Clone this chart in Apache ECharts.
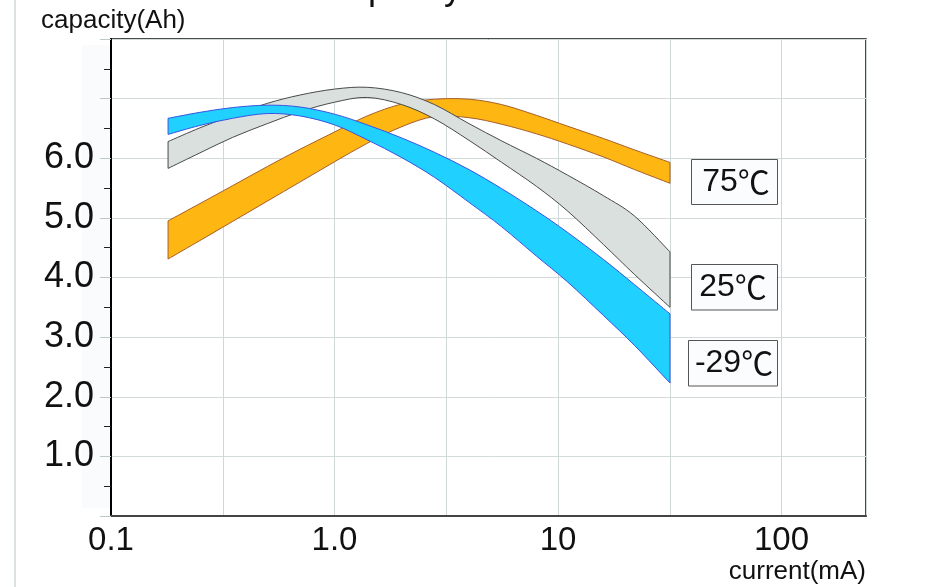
<!DOCTYPE html>
<html><head><meta charset="utf-8">
<script src="https://cdn.jsdelivr.net/npm/echarts@6/dist/echarts.min.js"></script>
<style>html,body{margin:0;padding:0;background:#fff}#c{width:928px;height:587px}</style>
</head><body><div id="c"></div>
<script>
// ---- data ----
const currents  = [0.18, 0.25, 0.35, 0.5, 0.7, 1.0, 1.4, 2.0, 2.8, 4.0, 5.6, 8.0, 11, 16, 22, 31.7];
const t75Upper  = [4.95, 5.24, 5.54, 5.86, 6.15, 6.44, 6.71, 6.91, 6.99, 6.99, 6.90, 6.72, 6.54, 6.33, 6.14, 5.93];
const t75Lower  = [4.31, 4.62, 4.94, 5.28, 5.60, 5.94, 6.25, 6.53, 6.70, 6.68, 6.57, 6.41, 6.24, 6.02, 5.81, 5.58];
const t25Upper  = [6.28, 6.51, 6.72, 6.92, 7.06, 7.16, 7.19, 7.10, 6.90, 6.58, 6.29, 6.00, 5.72, 5.37, 5.03, 4.43];
const t25Lower  = [5.83, 6.09, 6.35, 6.58, 6.78, 6.94, 7.02, 6.90, 6.66, 6.30, 5.93, 5.53, 5.12, 4.55, 4.05, 3.50];
const tm29Upper = [6.67, 6.77, 6.85, 6.89, 6.86, 6.74, 6.56, 6.34, 6.10, 5.81, 5.49, 5.12, 4.76, 4.30, 3.88, 3.39];
const tm29Lower = [6.40, 6.55, 6.67, 6.75, 6.71, 6.56, 6.31, 6.01, 5.68, 5.26, 4.85, 4.36, 3.93, 3.36, 2.86, 2.23];
const xTickLabels = ['0.1', '1.0', '10', '100'];
const yTickLabels = ['1.0', '2.0', '3.0', '4.0', '5.0', '6.0'];
const bandLabels = ['75℃', '25℃', '-29℃'];
const titleText = 'Capacity vs. Current';
const yName = 'capacity(Ah)';
const xName = 'current(mA)';

const FONT = '"Liberation Sans", Arial, "Noto Sans CJK SC", sans-serif';

function curve(p) {
  let s = '';
  for (let i = 0; i < p.length - 1; i++) {
    const p0 = p[i - 1] || p[i], p1 = p[i], p2 = p[i + 1], p3 = p[i + 2] || p2;
    const c1 = [p1[0] + (p2[0] - p0[0]) / 6, p1[1] + (p2[1] - p0[1]) / 6];
    const c2 = [p2[0] - (p3[0] - p1[0]) / 6, p2[1] - (p3[1] - p1[1]) / 6];
    s += 'C' + c1[0] + ',' + c1[1] + ',' + c2[0] + ',' + c2[1] + ',' + p2[0] + ',' + p2[1];
  }
  return s;
}

function bandSeries(name, upper, lower, fill, stroke, z) {
  return {
    type: 'custom', name, coordinateSystem: 'cartesian2d', silent: true, z, clip: false,
    data: currents.map((c, i) => [Math.log10(c), upper[i], lower[i]]),
    encode: { x: 0, y: [1, 2] },
    renderItem(params, api) {
      if (params.dataIndex !== 0) return null;
      const top = currents.map((c, i) => api.coord([Math.log10(c), upper[i]]));
      const bot = currents.map((c, i) => api.coord([Math.log10(c), lower[i]])).reverse();
      const d = 'M' + top[0][0] + ',' + top[0][1] + curve(top) +
                'L' + bot[0][0] + ',' + bot[0][1] + curve(bot) + 'Z';
      return { type: 'path', shape: { pathData: d }, style: { fill, stroke, lineWidth: 1 } };
    }
  };
}

function labelBox(text, x, y, w, h, tx) {
  return [
    { type: 'rect', z: 60, shape: { x, y, width: w, height: h }, style: { fill: '#FBFCFD', stroke: '#555', lineWidth: 1 } },
    { type: 'text', z: 61, x: tx, y: y + h / 2,
      style: { text: text.replace('℃', '{u|℃}'), font: '32px ' + FONT, fill: '#111', textAlign: 'center', textVerticalAlign: 'middle',
               rich: { u: { fontFamily: '"Noto Sans CJK SC"', fontSize: 32, fill: '#111' } } } }
  ];
}

const chart = echarts.init(document.getElementById('c'), null, { renderer: 'canvas' });
chart.setOption({
  animation: false,
  backgroundColor: '#fff',
  grid: { left: 111, right: 62, top: 39, bottom: 71, show: true, borderColor: '#111', borderWidth: 1.5, backgroundColor: 'transparent' },
  xAxis: {
    type: 'value', min: -1, max: 2.378, interval: 0.5,
    axisLine: { show: true, onZero: false, lineStyle: { color: '#444', width: 2 } },
    axisTick: { show: false },
    splitLine: { show: true, lineStyle: { color: '#CFD8D8', width: 1 } },
    axisLabel: {
      margin: 8, fontSize: 33, fontFamily: FONT, color: '#111',
      formatter: v => { const k = Math.round(v); return Math.abs(v - k) < 1e-6 && xTickLabels[k + 1] ? xTickLabels[k + 1] : ''; }
    }
  },
  yAxis: {
    type: 'value', min: 0, max: 8, interval: 1,
    axisLine: { show: true, onZero: false, lineStyle: { color: '#000', width: 2 } },
    axisTick: { show: true, length: 11, lineStyle: { color: '#BFC8C8' } },
    minorTick: { show: true, splitNumber: 2, length: 7, lineStyle: { color: '#222' } },
    splitLine: { show: true, lineStyle: { color: '#D3DADA', width: 1 } },
    axisLabel: {
      margin: 17, fontSize: 36, fontFamily: FONT, color: '#111',
      formatter: v => { const k = Math.round(v); return (k >= 1 && k <= yTickLabels.length) ? yTickLabels[k - 1] : ''; }
    }
  },
  series: [
    bandSeries(bandLabels[0], t75Upper, t75Lower, '#FDB612', '#A85F2A', 10),
    bandSeries(bandLabels[1], t25Upper, t25Lower, '#D9E0DE', '#4A4A4A', 11),
    bandSeries(bandLabels[2], tm29Upper, tm29Lower, '#20D0FF', '#3A55E0', 12)
  ],
  graphic: [
    { type: 'line', z: -5, shape: { x1: 15, y1: 0, x2: 15, y2: 587 }, style: { stroke: '#DCE2E2', lineWidth: 2 } },
    { type: 'rect', z: -5, shape: { x: 82, y: 45, width: 28, height: 463 }, style: { fill: '#FAFBFD' } },
    { type: 'text', x: 485, y: 7, style: { text: titleText, font: '36px ' + FONT, fill: '#111', textAlign: 'center', textVerticalAlign: 'bottom' } },
    { type: 'text', x: 41, y: 21, style: { text: yName, font: '26px ' + FONT, fill: '#111', textAlign: 'left', textVerticalAlign: 'middle' } },
    { type: 'text', x: 866, y: 572, style: { text: xName, font: '26px ' + FONT, fill: '#111', textAlign: 'right', textVerticalAlign: 'middle' } },
    ...labelBox(bandLabels[0], 691.5, 159.5, 86, 45, 736),
    ...labelBox(bandLabels[1], 691.5, 264.5, 86, 45.5, 733),
    ...labelBox(bandLabels[2], 688.5, 340.5, 89, 45.5, 734)
  ]
});
</script>
</body></html>
